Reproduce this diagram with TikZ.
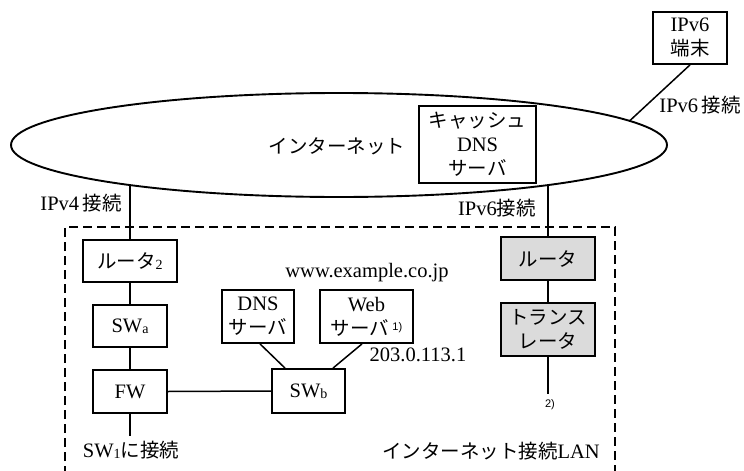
\documentclass[tikz,border=0pt]{standalone}
\usepackage{fontspec}
\setmainfont{Liberation Serif}
\newfontfamily\jp[Scale=0.95]{Noto Sans CJK JP}
\newfontfamily\smallsans{Liberation Sans}
\usetikzlibrary{shapes.geometric}
\newcommand\J[1]{{\jp #1}}
\newcommand\Sb[1]{\raisebox{-1pt}{\fontsize{14}{14}\selectfont #1}}
\newcommand\Note[1]{{\smallsans\fontsize{11}{11}\selectfont #1}}
\tikzset{
  box/.style={draw, line width=1.8pt, inner sep=0pt, align=center, font=\fontsize{20.5}{24}\selectfont},
  shaded/.style={box, fill=black!14},
  lbl/.style={inner sep=0pt, align=center, font=\fontsize{20.5}{24}\selectfont},
  wire/.style={line width=1.5pt},
  lanedge/.style={line width=2.2pt, dash pattern=on 9pt off 5pt},
}
\begin{document}
\begin{tikzpicture}[x=1pt,y=-1pt]
\useasboundingbox (0,0) rectangle (744,471);
% internet
\node[ellipse, draw, line width=1.9pt, minimum width=656pt, minimum height=104pt, inner sep=0pt] (inet) at (339,145) {};
\node[lbl] (inettext) at (337,146) {\J{インターネット}};
\node[box, minimum width=117pt, minimum height=77pt, fill=white] (cache) at (477.5,144.5)
  {\J{キャッシュ}\\DNS\\\J{サーバ}};
% IPv6 terminal
\node[box, minimum width=74pt, minimum height=52pt] (term) at (690,38) {IPv6\\\J{端末}};
\coordinate (eterm) at (630,120.5);
\draw[wire] (term.south) -- (eterm);
\node[lbl] (l6a) at (700,105) {IPv6\,\J{接続}};
% LAN frame
\draw[lanedge] (65,475) -- (65,227) -- (615,227) -- (615,475);
% left chain
\node[box, minimum width=94pt, minimum height=42pt] (r2) at (130,261) {\J{ルータ}\Sb{2}};
\node[box, minimum width=74pt, minimum height=42pt] (swa) at (130,326) {SW\Sb{a}};
\node[box, minimum width=74pt, minimum height=43pt] (fw) at (130,391.5) {FW};
\coordinate (e4) at (130,185.5);
\coordinate (fwend) at (130,436);
\draw[wire] (e4) -- (r2.north);
\draw[wire] (r2.south) -- (swa.north);
\draw[wire] (swa.south) -- (fw.north);
\draw[wire] (fw.south) -- (fwend);
\node[lbl] (l4) at (81,203) {IPv4\,\J{接続}};
\node[lbl] (sw1) at (131,450) {SW\Sb{1}\J{に接続}};
% servers
\node[box, minimum width=73pt, minimum height=44pt] (swb) at (308.5,391) {SW\Sb{b}};
\node[box, minimum width=72pt, minimum height=53pt] (dns) at (258,316.5) {DNS\\\J{サーバ}};
\node[box, minimum width=93pt, minimum height=53pt] (web) at (366.5,316.5) {Web\\\J{サーバ}\,\raisebox{5pt}{\Note{1)}}};
\draw[wire] (fw.east) -- (swb.west);
\draw[wire] (dns.south -| 260,0) -- (swb.north -| 285,0);
\draw[wire] (web.south -| 362,0) -- (swb.north -| 333,0);
\node[lbl] (www) at (367,273) {www.example.co.jp};
\node[lbl] (ip) at (418,355) {203.0.113.1};
% right chain
\node[shaded, minimum width=94pt, minimum height=43pt] (rt) at (548,258.5) {\J{ルータ}};
\node[shaded, minimum width=94pt, minimum height=53pt] (tr) at (548,329.5) {\J{トランス}\\\J{レータ}};
\coordinate (e6) at (548,185.5);
\coordinate (trend) at (548,394);
\draw[wire] (e6) -- (rt.north);
\draw[wire] (rt.south) -- (tr.north);
\draw[wire] (tr.south) -- (trend);
\node[inner sep=0pt] (n2) at (550,405) {\Note{2)}};
\node[lbl] (l6b) at (497,208) {IPv6\J{接続}};
\node[lbl] (lan) at (491,451) {\J{インターネット接続}LAN};
\end{tikzpicture}
\end{document}
